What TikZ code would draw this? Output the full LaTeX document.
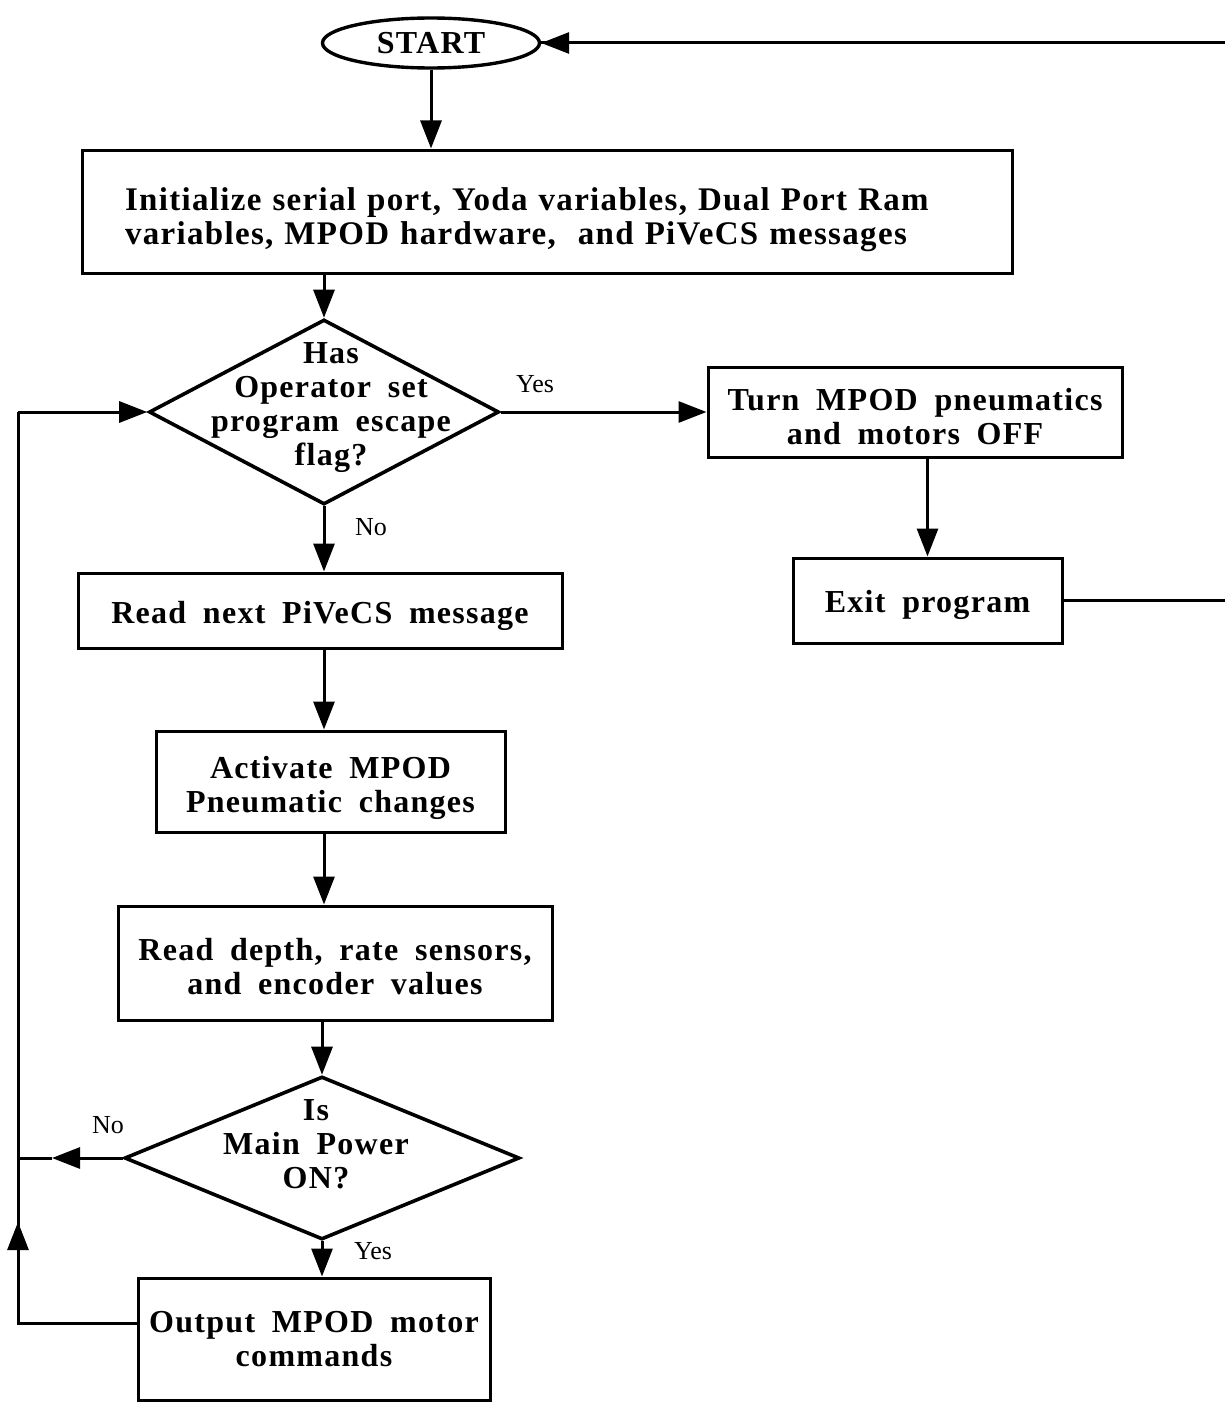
\documentclass[tikz,border=0pt]{standalone}
\usepackage{fontspec}
\setmainfont{Liberation Serif}
\newfontfamily\flowfont[LetterSpace=4,WordSpace=1.8]{Liberation Serif}
\usetikzlibrary{shapes.geometric,arrows.meta,calc}

% invisible strut that pushes the first line of a box downwards
\newcommand\padtop[1]{\rule{0pt}{#1}}

\tikzset{
  boxtext/.style={font=\flowfont\bfseries\fontsize{32}{34}\selectfont},
  procbox/.style={draw, line width=3pt, boxtext, align=center, inner sep=0pt},
  decision/.style={draw, diamond, line width=3.6pt, inner sep=0pt},
  terminal/.style={draw, ellipse, line width=3.4pt, boxtext, inner sep=0pt},
  answer/.style={font=\fontsize{26}{28}\selectfont, inner sep=0pt},
  flow/.style={line width=3pt},
  arr/.style={flow, -{Triangle[length=28pt,width=21pt]}},
}

\begin{document}
\begin{tikzpicture}[x=1pt,y=-1pt]
  \fill[white] (0,0) rectangle (1225,1402);
  \useasboundingbox (0,0) rectangle (1225,1402);
  \clip (0,0) rectangle (1225,1402);

  % nodes
  \node[terminal, minimum width=217, minimum height=50] (start) at (431,43) {START};
  \node[procbox, minimum width=930, minimum height=123, text width=844, align=left,
        font=\flowfont\bfseries\fontsize{33}{34}\selectfont]
    (init) at (547,211.5)
    {\padtop{40pt}Initialize serial port, Yoda variables, Dual Port Ram\\
     variables, MPOD hardware,\ \ and PiVeCS messages};
  \node[decision, minimum width=350, minimum height=185] (d1) at (324,412) {};
  \node[boxtext, align=center, inner sep=0pt] (d1txt) at (331,408)
    {Has\\Operator set\\program escape\\flag?};
  \node[procbox, minimum width=414, minimum height=90] (turn) at (915,412)
    {\padtop{32pt}Turn MPOD pneumatics\\and motors OFF};
  \node[procbox, minimum width=269, minimum height=85] (exit) at (927.5,600.5)
    {\padtop{32pt}Exit program};
  \node[procbox, minimum width=484, minimum height=75] (rnext) at (320,610.5)
    {\padtop{33pt}Read next PiVeCS message};
  \node[procbox, minimum width=349, minimum height=101] (act) at (330.5,781.5)
    {\padtop{36pt}Activate MPOD\\Pneumatic changes};
  \node[procbox, minimum width=434, minimum height=114] (depth) at (335,963)
    {\padtop{29pt}Read depth, rate sensors,\\and encoder values};
  \node[decision, minimum width=395, minimum height=163] (d2) at (322,1158) {};
  \node[boxtext, align=center, inner sep=0pt] (d2txt) at (316,1144)
    {Is\\Main Power\\ON?};
  \node[procbox, minimum width=352, minimum height=122] (out) at (314,1339)
    {Output MPOD motor\\commands};

  % branch labels
  \node[answer] (yes1) at (535,384) {Yes};
  \node[answer] (no1) at (371,527) {No};
  \node[answer] (no2) at (108,1125) {No};
  \node[answer] (yes2) at (373,1251) {Yes};

  % loop coordinates
  \coordinate (rtop) at (1250,605);
  \coordinate (lbot) at (18,1323);
  \coordinate (ltop) at (lbot |- d1.west);
  \coordinate (lup) at (18,1222);
  \coordinate (lmid) at (lbot |- d2.west);
  \coordinate (notip) at ($(lmid)+(34,0)$);

  % main flow
  \draw[arr] (start.south) -- (start.south |- init.north);
  \draw[arr] (d1.north |- init.south) -- (d1.north);
  \draw[arr] (d1.east) -- (turn.west |- d1.east);
  \draw[arr] (exit.north |- turn.south) -- (exit.north);
  \draw[flow] (exit.east) -- (exit.east -| rtop) |- (start.east);
  \draw[arr] (rtop |- start.east) -- (start.east);
  \draw[arr] (d1.south) -- (d1.south |- rnext.north);
  \draw[arr] (d1.south |- rnext.south) -- (d1.south |- act.north);
  \draw[arr] (d1.south |- act.south) -- (d1.south |- depth.north);
  \draw[arr] (d2.north |- depth.south) -- (d2.north);
  \draw[arr] (d2.south) -- (d2.south |- out.north);

  % return loop on the left
  \draw[flow] (lbot -| out.west) -- (lbot) -- (ltop);
  \draw[arr] (ltop) -- (d1.west);
  \draw[arr] (lbot) -- (lup);
  \draw[arr] (d2.west) -- (notip);
  \draw[flow] (notip) -- (lmid);
\end{tikzpicture}
\end{document}
